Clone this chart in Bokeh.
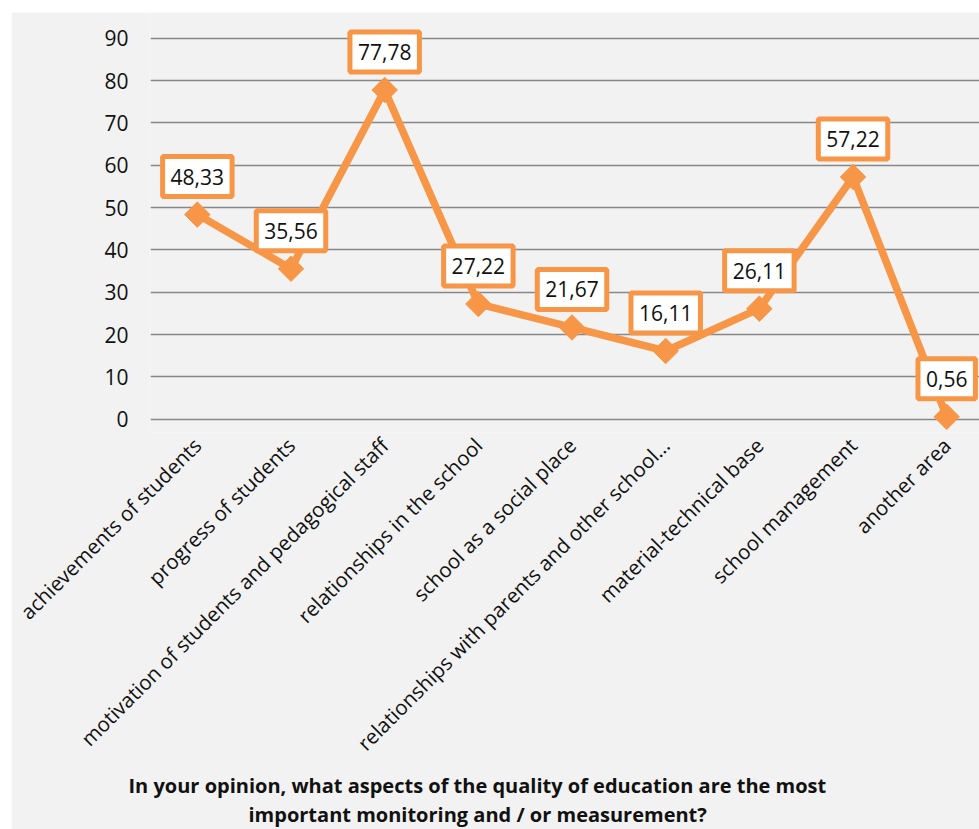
import math
from bokeh.plotting import figure
from bokeh.models import ColumnDataSource, Range1d, FixedTicker, Title
from bokeh.core.properties import value
from bokeh.embed import file_html
from bokeh.resources import INLINE

categories = [
    "achievements of students",
    "progress of students",
    "motivation of students and pedagogical staff",
    "relationships in the school",
    "school as a social place",
    "relationships with parents and other school…",
    "material-technical base",
    "school management",
    "another area",
]
values = [48.33, 35.56, 77.78, 27.22, 21.67, 16.11, 26.11, 57.22, 0.56]
y_ticks = [0, 10, 20, 30, 40, 50, 60, 70, 80, 90]
title_lines = ["In your opinion, what aspects of the quality of education are the most",
               "important monitoring and / or measurement?"]

ORANGE = "#F79646"
BG = "#F2F2F2"
FONT = "Open Sans"

xs = [i + 0.5 for i in range(len(categories))]
labels = [f"{v:.2f}".replace(".", ",") for v in values]
src = ColumnDataSource(dict(x=xs, y=values, lbl=labels))

p = figure(width=968, height=817, output_backend="svg", toolbar_location=None,
           x_range=Range1d(0, 8.85), y_range=Range1d(-3.14, 96.07),
           min_border_left=139, min_border_right=0, min_border_top=0,
           min_border_bottom=397)
p.margin = (12, 0, 0, 11)
p.background_fill_color = BG
p.border_fill_color = BG
p.outline_line_color = None

p.xgrid.visible = False
p.ygrid.grid_line_color = "#888888"
p.ygrid.grid_line_width = 1.6

p.yaxis.ticker = FixedTicker(ticks=y_ticks)
p.yaxis.axis_line_color = None
p.yaxis.major_tick_line_color = None
p.yaxis.minor_tick_line_color = None
p.yaxis.major_label_standoff = 16
p.yaxis.major_label_text_font = FONT
p.yaxis.major_label_text_font_size = "21px"
p.yaxis.major_label_text_color = "#111111"

p.xaxis.ticker = FixedTicker(ticks=xs)
p.xaxis.major_label_overrides = {x: c for x, c in zip(xs, categories)}
p.xaxis.major_label_orientation = math.pi / 4
p.xaxis.axis_line_color = None
p.xaxis.major_tick_line_color = None
p.xaxis.minor_tick_line_color = None
p.xaxis.major_tick_out = 0
p.xaxis.major_tick_in = 0
p.xaxis.axis_label_standoff = 0
p.xaxis.major_label_standoff = 9
p.xaxis.major_label_text_font = FONT
p.xaxis.major_label_text_font_size = "20.5px"
p.xaxis.major_label_text_color = "#111111"

p.line("x", "y", source=src, line_color=ORANGE, line_width=7.5, line_join="round")
p.scatter("x", "y", source=src, marker="square", size=18, angle=math.pi / 4,
          fill_color=ORANGE, line_color=ORANGE)
p.text("x", "y", text="lbl", source=src, y_offset=-38, text_align="center",
       text_baseline="middle", text_font=value(FONT), text_font_size="21px",
       text_color="#111111", background_fill_color="white",
       border_line_color=ORANGE, border_line_width=5, padding=[8, 12])

for line, off in zip(title_lines, [-22, 98]):
    p.add_layout(Title(text=line, align="left", offset=off, standoff=0,
                       text_font=FONT, text_font_size="20px",
                       text_font_style="bold", text_color="#111111"), "below")

open("out.html", "w").write(file_html(p, INLINE))
